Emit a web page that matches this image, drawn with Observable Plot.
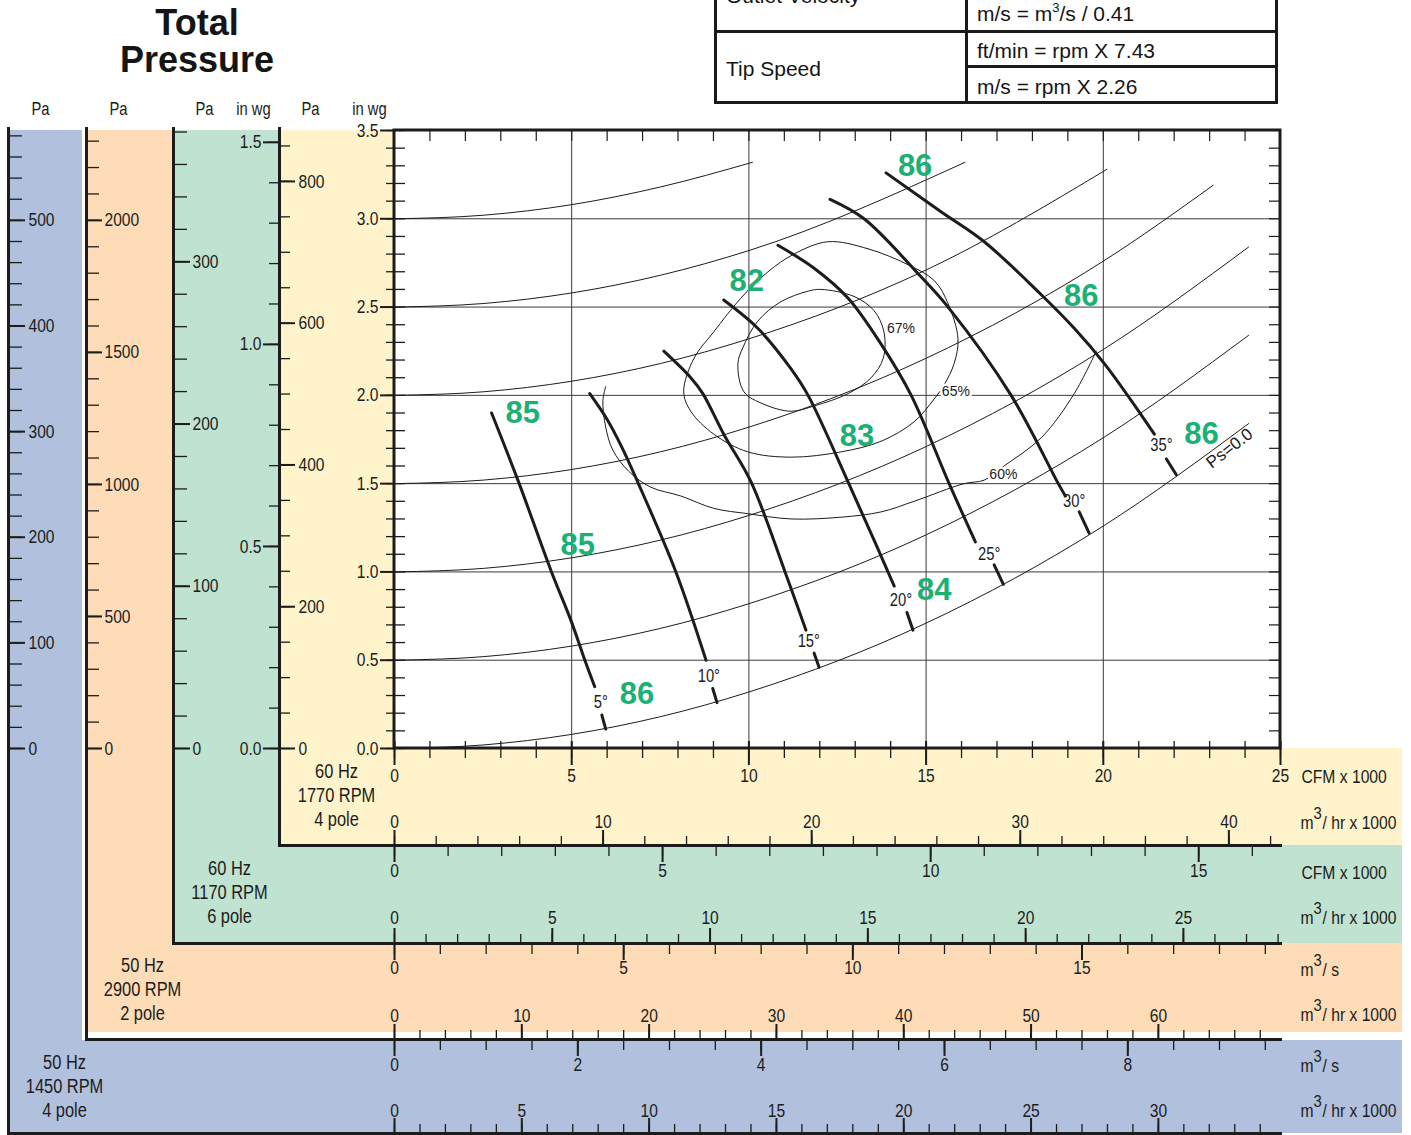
<!DOCTYPE html>
<html><head><meta charset="utf-8">
<script src="https://cdn.jsdelivr.net/npm/d3@7"></script>
<script src="https://cdn.jsdelivr.net/npm/@observablehq/plot@0.6"></script>
<style>
body{margin:0;background:#fff;}
#wrap{position:relative;width:1411px;height:1135px;overflow:hidden;background:#fff;}
#chart{position:absolute;left:0;top:0;}
.title{position:absolute;left:97px;width:200px;text-align:center;font:bold 36px 'Liberation Sans',Arial,sans-serif;line-height:36px;height:36px;color:#151515;white-space:nowrap;}
.tline{position:absolute;background:#1a1a1a;}
.ttext{position:absolute;font:21px 'Liberation Sans',Arial,sans-serif;color:#151515;line-height:24px;white-space:nowrap;}
.ttext sup{font-size:13px;line-height:0;vertical-align:9px;}
</style></head>
<body>
<div id="wrap">
  <div id="chart"></div>
  <div class="title" style="top:5px">Total</div>
  <div class="title" style="top:42px">Pressure</div>
  <div class="tline" style="left:714px;top:-10px;width:3px;height:114px"></div>
  <div class="tline" style="left:965px;top:-10px;width:3px;height:114px"></div>
  <div class="tline" style="left:1275px;top:-10px;width:3px;height:114px"></div>
  <div class="tline" style="left:714px;top:30px;width:564px;height:3px"></div>
  <div class="tline" style="left:965px;top:65px;width:313px;height:3px"></div>
  <div class="tline" style="left:714px;top:101px;width:564px;height:3px"></div>
  <div class="ttext" style="left:726px;top:-16px">Outlet Velocity</div>
  <div class="ttext" style="left:977px;top:2px">m/s = m<sup>3</sup>/s / 0.41</div>
  <div class="ttext" style="left:726px;top:57px">Tip Speed</div>
  <div class="ttext" style="left:977px;top:39px">ft/min = rpm X 7.43</div>
  <div class="ttext" style="left:977px;top:75px">m/s = rpm X 2.26</div>
</div>
<script>
// ================= DATA (60 Hz, 1770 RPM reference; flow in CFM x 1000, total pressure in in wg) =================
// Static pressure lines (total pressure = Ps + velocity pressure)
const psValues = ["0.0", "0.5", "1.0", "1.5", "2.0", "2.5", "3.0"];
const psLine00 = [[0,0.00],[2.5,0.02],[5,0.08],[7.5,0.18],[10,0.32],[15,0.71],[20,1.26],[24.1,1.84]];
const psLine05 = [[0,0.50],[2.5,0.52],[5,0.58],[7.5,0.68],[10,0.82],[15,1.21],[20,1.76],[24.1,2.34]];
const psLine10 = [[0,1.00],[2.5,1.02],[5,1.08],[7.5,1.18],[10,1.32],[15,1.71],[20,2.26],[24.1,2.84]];
const psLine15 = [[0,1.50],[2.5,1.52],[5,1.58],[7.5,1.68],[10,1.82],[15,2.21],[20,2.76],[23.1,3.19]];
const psLine20 = [[0,2.00],[2.5,2.02],[5,2.08],[7.5,2.18],[10,2.32],[15,2.71],[20.1,3.28]];
const psLine25 = [[0,2.50],[2.5,2.52],[5,2.58],[7.5,2.68],[10,2.82],[16.1,3.32]];
const psLine30 = [[0,3.00],[2.5,3.02],[5,3.08],[7.5,3.18],[10.1,3.32]];

// Blade pitch angle curves
const bladeAngles = ["5°", "10°", "15°", "20°", "25°", "30°", "35°"];
const blade05 = [[2.74,1.90],[3.50,1.51],[4.43,1.00],[4.97,0.73],[5.39,0.49],[5.65,0.35]];
const blade10 = [[5.51,2.01],[5.98,1.87],[6.43,1.70],[6.86,1.51],[7.94,1.00],[8.79,0.50]];
const blade15 = [[7.60,2.25],[8.36,2.10],[8.70,2.01],[9.29,1.78],[10.06,1.51],[11.02,1.00],[11.61,0.67]];
const blade20 = [[9.29,2.54],[10.25,2.38],[11.19,2.15],[11.67,2.00],[12.82,1.50],[13.62,1.14],[14.10,0.92]];
const blade25 = [[10.82,2.85],[11.84,2.72],[12.80,2.55],[13.73,2.29],[14.58,2.00],[15.65,1.50],[16.39,1.17]];
const blade30 = [[12.29,3.11],[13.25,3.00],[14.77,2.69],[15.62,2.50],[17.40,2.00],[18.73,1.50],[18.93,1.43]];
const blade35 = [[13.87,3.26],[15.42,3.04],[16.64,2.87],[18.25,2.57],[19.18,2.38],[20.03,2.18],[20.79,1.97],[21.44,1.78]];
// short pieces below each angle label, ending on the Ps = 0.0 line
const bladeTails = [
  [[5.85,0.19],[5.96,0.11]], [[8.98,0.34],[9.10,0.26]], [[11.84,0.54],[11.98,0.46]],
  [[14.46,0.77],[14.63,0.67]], [[16.92,1.04],[17.18,0.93]], [[19.32,1.34],[19.60,1.22]],
  [[21.78,1.64],[22.06,1.55]]
];
const bladeLabelAt = [[5.82,0.26],[8.87,0.41],[11.69,0.61],[14.29,0.84],[16.78,1.10],[19.18,1.40],[21.64,1.72]];

// Efficiency contours
const effLabels = ["67%", "65%", "60%"];
const eff67 = [[12.03,2.60],[12.97,2.56],[13.53,2.48],[13.81,2.36],[13.79,2.21],[13.45,2.10],[12.80,2.01],[11.84,1.94],[11.19,1.91],[10.42,1.95],[9.86,2.02],[9.69,2.18],[9.83,2.27],[10.25,2.42],[10.90,2.53],[11.67,2.59]];
const eff65 = [[12.23,2.87],[13.36,2.83],[14.49,2.74],[15.23,2.65],[15.62,2.52],[15.90,2.32],[15.79,2.18],[15.51,2.06],[15.23,1.98],[14.66,1.85],[13.73,1.74],[12.60,1.68],[11.19,1.65],[9.97,1.68],[9.01,1.78],[8.36,1.91],[8.16,2.02],[8.45,2.21],[9.01,2.36],[9.77,2.55],[10.54,2.70],[11.27,2.80]];
const eff60 = [[5.96,2.05],[5.88,1.97],[5.96,1.82],[6.16,1.69],[6.61,1.57],[7.23,1.48],[8.08,1.43],[9.01,1.36],[9.97,1.33],[11.19,1.30],[12.60,1.31],[13.73,1.34],[14.66,1.40],[16.07,1.50],[16.64,1.52],[17.20,1.60],[18.25,1.76],[19.18,2.01],[19.80,2.25]];
const effLabelAt = [[14.29,2.38],[15.84,2.02],[17.18,1.55]];

// Sound levels (green)
const soundValues = ["86", "82", "86", "85", "83", "86", "85", "84", "86"];
const soundAt = [[14.69,3.30],[9.94,2.65],[19.38,2.56],[3.62,1.90],[13.05,1.77],[22.77,1.78],[5.17,1.15],[15.23,0.90],[6.84,0.31]];

// Axis tick labels
const yellowInwgLabels = ["0.0","0.5","1.0","1.5","2.0","2.5","3.0","3.5"];
const yellowPaLabels = [0, 200, 400, 600, 800];
const greenInwgLabels = ["0.0","0.5","1.0","1.5"];
const greenPaLabels = [0, 100, 200, 300];
const orangePaLabels = [0, 500, 1000, 1500, 2000];
const bluePaLabels = [0, 100, 200, 300, 400, 500];
const yellowCfmLabels = [0, 5, 10, 15, 20, 25];
const yellowM3hLabels = [0, 10, 20, 30, 40];
const greenCfmLabels = [0, 5, 10, 15];
const greenM3hLabels = [0, 5, 10, 15, 20, 25];
const orangeM3sLabels = [0, 5, 10, 15];
const orangeM3hLabels = [0, 10, 20, 30, 40, 50, 60];
const blueM3sLabels = [0, 2, 4, 6, 8];
const blueM3hLabels = [0, 5, 10, 15, 20, 25, 30];
const unitLabels = ["CFM x 1000","m3/ hr x 1000","CFM x 1000","m3/ hr x 1000","m3/ s","m3/ hr x 1000","m3/ s","m3/ hr x 1000"];
const pressureHeaders = ["Pa","Pa","Pa","in wg","Pa","in wg"];
const motorCaptions = [["60 Hz","1770 RPM","4 pole"],["60 Hz","1170 RPM","6 pole"],["50 Hz","2900 RPM","2 pole"],["50 Hz","1450 RPM","4 pole"]];

// Unit conversions (fan laws relative to 1770 RPM)
const RPM_REF = 1770, PA_PER_INWG = 249.09, KCFM_PER_M3S = 2.11888, M3H_PER_CFM = 1.699;
const flowAt = rpm => RPM_REF / rpm;
const presAt = rpm => (RPM_REF / rpm) ** 2;
const conv = {
  yCfm: v => v,
  yM3h: v => v / M3H_PER_CFM,
  gCfm: v => v * flowAt(1170),
  gM3h: v => v / M3H_PER_CFM * flowAt(1170),
  oM3s: v => v * KCFM_PER_M3S * flowAt(2900),
  oM3h: v => v / 3.6 * KCFM_PER_M3S * flowAt(2900),
  bM3s: v => v * KCFM_PER_M3S * flowAt(1450),
  bM3h: v => v / 3.6 * KCFM_PER_M3S * flowAt(1450),
  yInwg: v => v,
  yPa: v => v / PA_PER_INWG,
  gInwg: v => v * presAt(1170),
  gPa: v => v / PA_PER_INWG * presAt(1170),
  oPa: v => v / PA_PER_INWG * presAt(2900),
  bPa: v => v / PA_PER_INWG * presAt(1450)
};

// ================= LAYOUT / STYLE =================
const INK = "#1c1c1c";
const BLUE = "#b0c0dd", PEACH = "#fddcb7", MINT = "#c0e2d0", CREAM = "#fef3cb", GREEN_TXT = "#1bb074";
const NARROW = "'Liberation Sans Narrow','Arial Narrow','Liberation Sans',sans-serif";
const NARROW_U = "'Liberation Sans Narrow','Arial Narrow',Arimo,'Liberation Sans',sans-serif";
const SANS = "'Liberation Sans',Arial,Helvetica,sans-serif";

const xS = Plot.scale({x: {domain: [0, 25], range: [394, 1280]}});
const yS = Plot.scale({y: {domain: [0, 3.5], range: [748, 130]}});
const X = px => xS.invert(px);
const Y = py => yS.invert(py);

const M = [];

// coloured panels
const fills = [
  [7,82,130,1133,BLUE],[7,1402,1040,1133,BLUE],
  [86,173,130,1032,PEACH],[86,1402,943,1032,PEACH],
  [173,279,130,943,MINT],[173,1402,845,943,MINT],
  [279,394,130,845,CREAM],[279,1402,748,845,CREAM]
];
M.push(Plot.rect(fills, {x1: d => X(d[0]), x2: d => X(d[1]), y1: d => Y(d[2]), y2: d => Y(d[3]), fill: d => d[4]}));

// grid
M.push(Plot.ruleX([5,10,15,20], {x: d => d, y1: 0, y2: 3.5, stroke: "#3a3a3a", strokeWidth: 1}));
M.push(Plot.ruleY([0.5,1,1.5,2,2.5,3], {y: d => d, x1: 0, x2: 25, stroke: "#3a3a3a", strokeWidth: 1}));

// inner ticks of the chart frame
const tenths = d3.range(1, 35).map(i => i / 10);
M.push(Plot.ruleY(tenths, {y: d => d, x1: X(1269), x2: 25, stroke: INK, strokeWidth: 1.2}));
M.push(Plot.ruleX(d3.range(1, 25), {x: d => d, y1: 3.5, y2: Y(141), stroke: INK, strokeWidth: 1.2}));

// static pressure lines
const psLines = [psLine00, psLine05, psLine10, psLine15, psLine20, psLine25, psLine30];
M.push(Plot.line(psLines.flatMap((pts, k) => pts.map(([q, p]) => ({q, p, k: psValues[k]}))),
  {x: "q", y: "p", z: "k", curve: "monotone-x", stroke: INK, strokeWidth: 1}));

// efficiency contours
M.push(Plot.line(eff67, {x: d => d[0], y: d => d[1], curve: "catmull-rom-closed", stroke: INK, strokeWidth: 1}));
M.push(Plot.line(eff65, {x: d => d[0], y: d => d[1], curve: "catmull-rom-closed", stroke: INK, strokeWidth: 1}));
M.push(Plot.line(eff60, {x: d => d[0], y: d => d[1], curve: "catmull-rom", stroke: INK, strokeWidth: 1}));

// blade angle curves
const bladeCurves = [blade05, blade10, blade15, blade20, blade25, blade30, blade35];
M.push(Plot.line(bladeCurves.flatMap((pts, k) => pts.map(([q, p]) => ({q, p, k: bladeAngles[k]}))),
  {x: "q", y: "p", z: "k", curve: "catmull-rom", stroke: INK, strokeWidth: 3}));
M.push(Plot.line(bladeTails.flatMap((pts, k) => pts.map(([q, p]) => ({q, p, k: bladeAngles[k]}))),
  {x: "q", y: "p", z: "k", stroke: INK, strokeWidth: 3}));

// chart frame and panel outlines
M.push(Plot.rect([0], {x1: 0, x2: 25, y1: 0, y2: 3.5, fill: "none", stroke: INK, strokeWidth: 3}));
const outlines = [
  [8,128,8,1133],[8,1133,1280,1133],
  [86,128,86,1039],[86,1039,1280,1039],
  [173,128,173,943],[173,943,1280,943],
  [279,128,279,845],[279,845,1280,845]
];
M.push(Plot.link(outlines, {x1: d => X(d[0]), y1: d => Y(d[1]), x2: d => X(d[2]), y2: d => Y(d[3]), stroke: INK, strokeWidth: 3, strokeLinecap: "square"}));

// ---- vertical (pressure) axes
function leftAxis({labels, step, max, f, lineX, dir, minorFrom = 0, minorLen, majorLen, labelX, anchor}) {
  const minor = d3.range(0, Math.round(max / step) + 1).map(i => i * step);
  return [
    Plot.ruleY(minor, {y: d => f(d), x1: X(lineX - dir * minorFrom), x2: X(lineX + dir * minorLen), stroke: INK, strokeWidth: 1.3}),
    Plot.ruleY(labels, {y: d => f(+d), x1: X(lineX), x2: X(lineX + dir * majorLen), stroke: INK, strokeWidth: 2}),
    Plot.text(labels, {y: d => f(+d), x: X(labelX), text: d => String(d), textAnchor: anchor, fontSize: 19, fontFamily: NARROW, fill: INK})
  ];
}
M.push(...leftAxis({labels: bluePaLabels, step: 20, max: 580, f: conv.bPa, lineX: 8, dir: 1, minorLen: 14, majorLen: 17, labelX: 28, anchor: "start"}));
M.push(...leftAxis({labels: orangePaLabels, step: 100, max: 2300, f: conv.oPa, lineX: 86, dir: 1, minorLen: 13, majorLen: 16, labelX: 104, anchor: "start"}));
M.push(...leftAxis({labels: greenPaLabels, step: 20, max: 380, f: conv.gPa, lineX: 173, dir: 1, minorLen: 14, majorLen: 17, labelX: 192, anchor: "start"}));
M.push(...leftAxis({labels: greenInwgLabels, step: 0.1, max: 1.5, f: conv.gInwg, lineX: 279, dir: -1, minorLen: 10, majorLen: 16, labelX: 261, anchor: "end"}));
M.push(...leftAxis({labels: yellowPaLabels, step: 50, max: 850, f: conv.yPa, lineX: 279, dir: 1, minorLen: 11, majorLen: 16, labelX: 298, anchor: "start"}));
M.push(...leftAxis({labels: yellowInwgLabels, step: 0.1, max: 3.5, f: conv.yInwg, lineX: 394, dir: -1, minorFrom: 11, minorLen: 8, majorLen: 14, labelX: 378, anchor: "end"}));

// ---- horizontal (flow) axes
function flowAxis({labels, step, max, f, lineY, dir, minorFrom = 0, minorLen, majorLen, labelY}) {
  const minor = d3.range(0, Math.round(max / step) + 1).map(i => i * step);
  return [
    Plot.ruleX(minor, {x: d => f(d), y1: Y(lineY - dir * minorFrom), y2: Y(lineY + dir * minorLen), stroke: INK, strokeWidth: 1.3}),
    Plot.ruleX(labels, {x: d => f(d), y1: Y(lineY - dir * minorFrom), y2: Y(lineY + dir * majorLen), stroke: INK, strokeWidth: 2}),
    Plot.text(labels, {x: d => f(d), y: Y(labelY), text: d => String(d), fontSize: 19, fontFamily: NARROW, fill: INK})
  ];
}
M.push(...flowAxis({labels: yellowCfmLabels, step: 1, max: 25, f: conv.yCfm, lineY: 748, dir: 1, minorFrom: 7, minorLen: 10, majorLen: 17, labelY: 775}));
M.push(...flowAxis({labels: yellowM3hLabels, step: 2, max: 42, f: conv.yM3h, lineY: 845, dir: -1, minorLen: 9, majorLen: 15, labelY: 821}));
M.push(...flowAxis({labels: greenCfmLabels, step: 1, max: 16, f: conv.gCfm, lineY: 845, dir: 1, minorLen: 11, majorLen: 17, labelY: 870}));
M.push(...flowAxis({labels: greenM3hLabels, step: 1, max: 28, f: conv.gM3h, lineY: 943, dir: -1, minorLen: 9, majorLen: 15, labelY: 917}));
M.push(...flowAxis({labels: orangeM3sLabels, step: 1, max: 19, f: conv.oM3s, lineY: 943, dir: 1, minorLen: 11, majorLen: 17, labelY: 967}));
M.push(...flowAxis({labels: orangeM3hLabels, step: 2, max: 68, f: conv.oM3h, lineY: 1039, dir: -1, minorLen: 9, majorLen: 15, labelY: 1015}));
M.push(...flowAxis({labels: blueM3sLabels, step: 0.5, max: 9.5, f: conv.bM3s, lineY: 1039, dir: 1, minorLen: 11, majorLen: 17, labelY: 1064}));
M.push(...flowAxis({labels: blueM3hLabels, step: 1, max: 34, f: conv.bM3h, lineY: 1133, dir: -1, minorLen: 9, majorLen: 15, labelY: 1110}));

// unit names at right of the flow axes
const unitRowY = [777, 823, 873, 918, 970, 1015, 1066, 1111];
const unitRows = unitLabels.map((u, i) => ({u, y: unitRowY[i], sup: u.startsWith("m3")}));
M.push(Plot.text(unitRows.filter(d => !d.sup), {x: X(1301), y: d => Y(d.y), text: "u", textAnchor: "start", fontSize: 18, fontFamily: NARROW_U, fill: INK}));
M.push(Plot.text(unitRows.filter(d => d.sup), {x: X(1300), y: d => Y(d.y), text: () => "m", textAnchor: "start", fontSize: 18, fontFamily: NARROW_U, fill: INK}));
M.push(Plot.text(unitRows.filter(d => d.sup), {x: X(1313), y: d => Y(d.y - 10), text: () => "3", textAnchor: "start", fontSize: 17, fontFamily: NARROW_U, fill: INK}));
M.push(Plot.text(unitRows.filter(d => d.sup), {x: X(1322), y: d => Y(d.y), text: d => d.u.slice(2), textAnchor: "start", fontSize: 18, fontFamily: NARROW_U, fill: INK}));

// pressure unit headers
const headerX = [40, 118, 204, 253, 310, 369];
M.push(Plot.text(pressureHeaders.map((t, i) => ({t, x: headerX[i]})), {x: d => X(d.x), y: Y(109), text: "t", fontSize: 18, fontFamily: NARROW, fill: INK}));

// motor captions
const captionX = [336, 229, 142, 64], captionY = [771, 868, 965, 1062];
M.push(Plot.text(motorCaptions.flatMap((lines, i) => lines.map((t, j) => ({t, x: captionX[i], y: captionY[i] + 24 * j}))),
  {x: d => X(d.x), y: d => Y(d.y), text: "t", fontSize: 20, fontFamily: NARROW, fill: INK}));

// blade angle labels
M.push(Plot.text(bladeAngles.map((t, i) => ({t, q: bladeLabelAt[i][0], p: bladeLabelAt[i][1]})),
  {x: "q", y: "p", text: "t", fontSize: 18, fontFamily: NARROW, fill: INK}));

// efficiency labels with a white halo that breaks the lines below
const effRows = effLabels.map((t, i) => ({t, q: effLabelAt[i][0], p: effLabelAt[i][1]}));
M.push(Plot.text(effRows, {x: "q", y: "p", text: "t", fontSize: 14, fontFamily: SANS, fill: "white", stroke: "white", strokeWidth: 5}));
M.push(Plot.text(effRows, {x: "q", y: "p", text: "t", fontSize: 14, fontFamily: SANS, fill: INK}));

// Ps = 0.0 label
M.push(Plot.text(["Ps=0.0"], {x: 23.56, y: 1.70, text: d => d, rotate: -38, fontSize: 17, fontFamily: SANS, fill: INK}));

// sound levels
M.push(Plot.text(soundValues.map((t, i) => ({t, q: soundAt[i][0], p: soundAt[i][1]})),
  {x: "q", y: "p", text: "t", fontSize: 31, fontWeight: "bold", fontFamily: SANS, fill: GREEN_TXT}));

const chart = Plot.plot({
  width: 1411, height: 1135,
  marginTop: 0, marginRight: 0, marginBottom: 0, marginLeft: 0,
  x: {domain: [0, 25], range: [394, 1280], axis: null},
  y: {domain: [0, 3.5], range: [748, 130], axis: null},
  color: {type: "identity"},
  style: {fontFamily: SANS, background: "white", overflow: "visible"},
  marks: M
});
document.getElementById("chart").appendChild(chart);

// Condensed lettering: if no narrow face is installed, squeeze the glyphs of the narrow texts
const ctx = document.createElement("canvas").getContext("2d");
ctx.font = `100px ${NARROW}`; const wN = ctx.measureText("0123456789 RPM").width;
ctx.font = `100px ${SANS}`; const wS = ctx.measureText("0123456789 RPM").width;
const squeezeFor = {[NARROW]: 0.82, [NARROW_U]: 0.87};
if (wN / wS > 0.92) {
  chart.querySelectorAll("g[font-family]").forEach(g => {
    const k = squeezeFor[g.getAttribute("font-family")];
    if (!k) return;
    g.querySelectorAll("text").forEach(t => {
      const len = t.getComputedTextLength();
      t.setAttribute("textLength", (len * k).toFixed(2));
      t.setAttribute("lengthAdjust", "spacingAndGlyphs");
    });
  });
}
</script>
</body></html>
